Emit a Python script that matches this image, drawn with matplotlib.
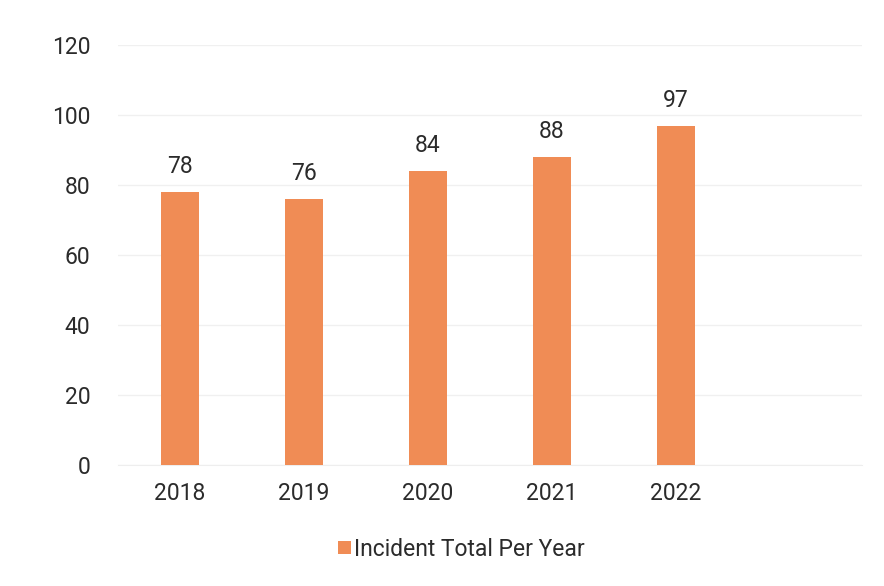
import numpy as np
import matplotlib
matplotlib.use("Agg")
import matplotlib.pyplot as plt

# Daten
years = ["2018", "2019", "2020", "2021", "2022"]
incidents = [78, 76, 84, 88, 97]
y_ticks = [0, 20, 40, 60, 80, 100, 120]

plt.rcParams['font.family'] = ['Roboto', 'DejaVu Sans']

fig = plt.figure(figsize=(8.84, 5.86), dpi=100)
ax = fig.add_axes([0.1335, 0.2065, 0.8416, 0.7165])

x = np.arange(len(years))
bars = ax.bar(x, incidents, width=0.305, color='#F08C55', zorder=3,
              label='Incident Total Per Year')

# Werte über den Balken
for xi, v in zip(x, incidents):
    ax.annotate(str(v), (xi, v), xytext=(0, 10), textcoords='offset points',
                ha='center', va='bottom', fontsize=16.5, color='#2b2b2b')

ax.set_xlim(-0.5, len(years) + 0.5)
ax.set_ylim(0, 120)
ax.set_yticks(y_ticks)
ax.set_xticks(x)
ax.set_xticklabels(years)
ax.tick_params(axis='both', length=0, labelsize=16.5, labelcolor='#2b2b2b')
ax.tick_params(axis='y', pad=20)
ax.tick_params(axis='x', pad=12)

ax.grid(axis='y', color='#f0f0f0', linewidth=1, zorder=0)
for s in ['top', 'right', 'left']:
    ax.spines[s].set_visible(False)
ax.spines['bottom'].set_color('#eeeeee')

fig.legend(loc='center', bbox_to_anchor=(0.522, 0.063), frameon=False,
           fontsize=16.5, handlelength=0.55, handleheight=0.55,
           handletextpad=0.15, labelcolor='#2b2b2b')

fig.savefig('out.png', dpi=100)
